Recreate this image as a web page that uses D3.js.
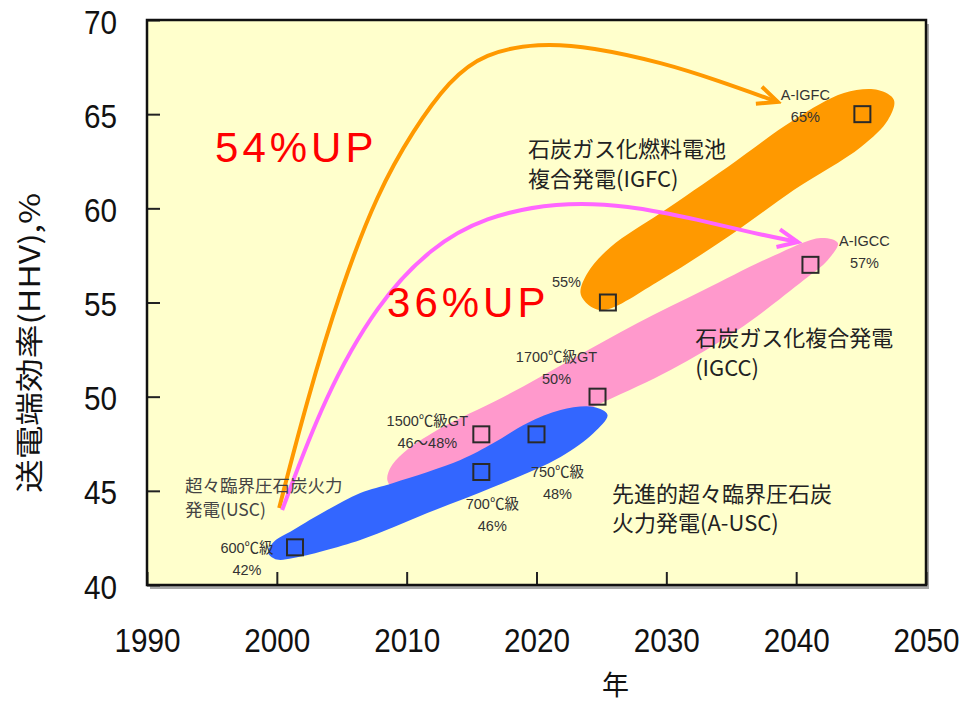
<!DOCTYPE html>
<html>
<head>
<meta charset="utf-8">
<script src="https://cdn.jsdelivr.net/npm/d3@7"></script>
<style>
  body { margin: 0; background: #ffffff; }
  svg { display: block; }
</style>
</head>
<body>
<svg id="chart" width="965" height="703"></svg>
<script>
// ---- axis ticks ----
const yearTicks = [1990, 2000, 2010, 2020, 2030, 2040, 2050];
const effTicks = [40, 45, 50, 55, 60, 65, 70];

// ---- milestone technologies: year, send-end efficiency (HHV, %) ----
const milestoneYears = [2001.4, 2015.75, 2015.75, 2020, 2024.7, 2025.5, 2041.1, 2045.1];
const milestoneEff   = [42, 48, 46, 48, 50, 55, 57, 65];
const milestoneLabels = [
  ["600℃級", "42%"],
  ["1500℃級GT", "46～48%"],
  ["700℃級", "46%"],
  ["750℃級", "48%"],
  ["1700℃級GT", "50%"],
  ["55%"],
  ["A-IGCC", "57%"],
  ["A-IGFC", "65%"]
];

// ---- technology bands, outline as [year, efficiency] ----
const bandUSC = [
  [1999.33, 41.70], [1999.70, 42.25], [2001.26, 42.92], [2003.88, 43.98],
  [2006.43, 44.89], [2008.97, 45.42], [2014.14, 46.64], [2016.68, 47.54],
  [2019.31, 48.60], [2021.85, 49.29], [2024.40, 49.45], [2025.47, 49.03],
  [2024.40, 48.07], [2021.85, 46.80], [2016.68, 45.20], [2011.59, 43.82],
  [2006.43, 42.39], [2001.26, 41.43], [2000.00, 41.35]
];
const bandIGCC = [
  [2008.51, 45.58], [2008.74, 46.21], [2009.74, 47.01], [2012.36, 48.23],
  [2017.45, 49.98], [2022.62, 51.95], [2027.79, 53.91], [2032.88, 55.66],
  [2038.05, 57.42], [2041.90, 58.43], [2043.21, 58.16], [2042.44, 57.26],
  [2040.59, 56.19], [2035.50, 53.54], [2030.33, 51.42], [2025.17, 49.72],
  [2018.77, 47.70], [2013.37, 46.11], [2009.90, 45.20], [2008.89, 45.20]
];
const bandIGFC = [
  [2023.39, 55.50], [2023.93, 56.57], [2025.71, 57.95], [2029.56, 59.75],
  [2034.73, 62.20], [2039.82, 64.69], [2043.68, 66.12], [2046.30, 66.28],
  [2047.53, 65.75], [2047.07, 64.69], [2044.99, 63.26], [2039.82, 60.97],
  [2034.73, 58.48], [2029.56, 56.20], [2025.17, 54.60], [2024.01, 54.87]
];

// ---- improvement arrows from USC (2000) ----
const arrowIGFC = [
  [2000.18, 44.09], [2002.26, 49.66], [2004.96, 55.82], [2007.74, 60.81],
  [2010.51, 64.16], [2013.29, 66.81], [2015.99, 68.25], [2020.15, 68.78],
  [2024.24, 68.57], [2029.79, 67.72], [2033.88, 66.81], [2038.58, 65.65]
];
const arrowIGCC = [
  [2000.41, 43.98], [2003.65, 49.98], [2007.74, 54.97], [2011.90, 57.95],
  [2015.99, 59.54], [2021.54, 60.34], [2027.02, 60.18], [2032.57, 59.38],
  [2036.66, 58.69], [2040.13, 58.21]
];

// ---- scales ----
const svg = d3.select("#chart");
const x = d3.scaleLinear().domain([1990, 2050]).range([147, 926]);
const y = d3.scaleLinear().domain([40, 70]).range([585, 20]);
const [x0, x1] = x.range();
const [yb, yt] = y.range();

// frame shadow + plot background
svg.append("rect")
  .attr("x", x0 + 3).attr("y", yt + 4)
  .attr("width", x1 - x0).attr("height", yb - yt)
  .attr("fill", "#a8a8a8");
svg.append("rect")
  .attr("x", x0).attr("y", yt)
  .attr("width", x1 - x0).attr("height", yb - yt)
  .attr("fill", "#ffffcc");

// ---- bands ----
const bandLine = d3.line()
  .x(d => x(d[0])).y(d => y(d[1]))
  .curve(d3.curveCatmullRomClosed.alpha(0.5));
const bandLayer = svg.append("g");
[[bandIGCC, "#ff99cc"], [bandIGFC, "#ff9900"], [bandUSC, "#3366ff"]].forEach(([pts, col]) => {
  bandLayer.append("path").attr("d", bandLine(pts)).attr("fill", col);
});

// ---- arrows ----
const defs = svg.append("defs");
function chevron(id, col) {
  defs.append("marker")
    .attr("id", id)
    .attr("markerUnits", "userSpaceOnUse")
    .attr("viewBox", "-24 -14 28 28")
    .attr("refX", 0).attr("refY", 0)
    .attr("markerWidth", 28).attr("markerHeight", 28)
    .attr("orient", "auto")
    .append("path")
    .attr("d", "M-20,-9 L0,0 L-20,9")
    .attr("fill", "none").attr("stroke", col)
    .attr("stroke-width", 4).attr("stroke-linejoin", "miter");
}
chevron("headOrange", "#ff9900");
chevron("headPink", "#ff66ff");
const arrowLine = d3.line()
  .x(d => x(d[0])).y(d => y(d[1]))
  .curve(d3.curveBasis);
svg.append("path").attr("d", arrowLine(arrowIGFC))
  .attr("fill", "none").attr("stroke", "#ff9900").attr("stroke-width", 4)
  .attr("marker-end", "url(#headOrange)");
svg.append("path").attr("d", arrowLine(arrowIGCC))
  .attr("fill", "none").attr("stroke", "#ff66ff").attr("stroke-width", 4)
  .attr("marker-end", "url(#headPink)");

// ---- milestone squares ----
const markSize = 16;
const marks = milestoneYears.map((yr, i) => ({ yr, eff: milestoneEff[i], lines: milestoneLabels[i] }));
svg.append("g").selectAll("rect").data(marks).join("rect")
  .attr("x", d => x(d.yr) - markSize / 2)
  .attr("y", d => y(d.eff) - markSize / 2)
  .attr("width", markSize).attr("height", markSize)
  .attr("fill", "none").attr("stroke", "#2a2a2a").attr("stroke-width", 2);

// label placement relative to each square: [dx, dy of first line, anchor]
const labelPlace = [
  [-48, 6, "middle"],
  [-54, -8, "middle"],
  [11, 37, "middle"],
  [21, 43, "middle"],
  [-41, -35, "middle"],
  [-27, -16, "end"],
  [54, -19, "middle"],
  [-57, -14, "middle"]
];
const smallFont = "'Liberation Sans', 'Noto Sans CJK JP', sans-serif";
marks.forEach((m, i) => {
  const [dx, dy, anchor] = labelPlace[i];
  const t = svg.append("text")
    .attr("font-family", smallFont).attr("font-size", 14.5)
    .attr("fill", "#333").attr("text-anchor", anchor);
  m.lines.forEach((ln, j) => {
    t.append("tspan")
      .attr("x", x(m.yr) + dx)
      .attr("y", y(m.eff) + dy + j * 22)
      .text(ln);
  });
});

// ---- technology names ----
const cjk = "'Noto Sans CJK JP', sans-serif";
function note(yr, eff, lines, size, gap, fill) {
  const t = svg.append("text")
    .attr("font-family", cjk).attr("font-size", size).attr("fill", fill);
  lines.forEach((ln, j) => {
    t.append("tspan").attr("x", x(yr)).attr("y", y(eff) + j * gap).text(ln);
  });
}
note(2019.35, 62.73, ["石炭ガス化燃料電池", "複合発電(IGFC)"], 22, 30, "#222");
note(2032.22, 52.69, ["石炭ガス化複合発電", "(IGCC)"], 22, 30, "#222");
note(2025.82, 44.41, ["先進的超々臨界圧石炭", "火力発電(A-USC)"], 22, 29, "#222");
note(1992.93, 44.94, ["超々臨界圧石炭火力", "発電(USC)"], 17.5, 24, "#444");

// improvement captions
svg.append("text").attr("x", x(1995.24)).attr("y", y(62.46))
  .attr("font-family", "'Liberation Sans', sans-serif").attr("font-size", 42)
  .attr("letter-spacing", 4).attr("fill", "#ff0000").text("54%UP");
svg.append("text").attr("x", x(2008.49)).attr("y", y(54.23))
  .attr("font-family", "'Liberation Sans', sans-serif").attr("font-size", 42)
  .attr("letter-spacing", 4).attr("fill", "#ff0000").text("36%UP");

// ---- axes ----
const sx = 0.9;
const xAxis = svg.append("g").attr("transform", `translate(0,${yb})`)
  .call(d3.axisBottom(x).tickValues(yearTicks).tickFormat(d3.format("d")).tickSize(-13).tickPadding(0));
const yAxis = svg.append("g").attr("transform", `translate(${x0},0)`)
  .call(d3.axisLeft(y).tickValues(effTicks).tickSize(-13).tickPadding(0));
[xAxis, yAxis].forEach(a => {
  a.select(".domain").remove();
  a.selectAll(".tick line").attr("stroke", "#222").attr("stroke-width", 2);
  a.selectAll(".tick text")
    .attr("font-family", "'Liberation Sans', sans-serif")
    .attr("font-size", 33).attr("fill", "#111").attr("dy", null);
});
xAxis.selectAll(".tick text").attr("x", 0).attr("y", 67)
  .attr("transform", `scale(${sx},1)`);
yAxis.selectAll(".tick text").attr("x", -30 / sx).attr("y", 13)
  .attr("text-anchor", "end").attr("transform", `scale(${sx},1)`);

// plot frame
svg.append("rect")
  .attr("x", x0).attr("y", yt)
  .attr("width", x1 - x0).attr("height", yb - yt)
  .attr("fill", "none").attr("stroke", "#111").attr("stroke-width", 2.5);

// axis titles
svg.append("text")
  .attr("x", (x0 + x1) / 2 + 79).attr("y", 695)
  .attr("text-anchor", "middle")
  .attr("font-family", cjk).attr("font-size", 27).attr("fill", "#111")
  .text("年");
svg.append("text")
  .attr("transform", "translate(40,343) rotate(-90)")
  .attr("text-anchor", "middle")
  .attr("font-family", cjk).attr("font-size", 28).attr("fill", "#111")
  .attr("textLength", 300).attr("lengthAdjust", "spacingAndGlyphs")
  .text("送電端効率(HHV),%");
</script>
</body>
</html>
